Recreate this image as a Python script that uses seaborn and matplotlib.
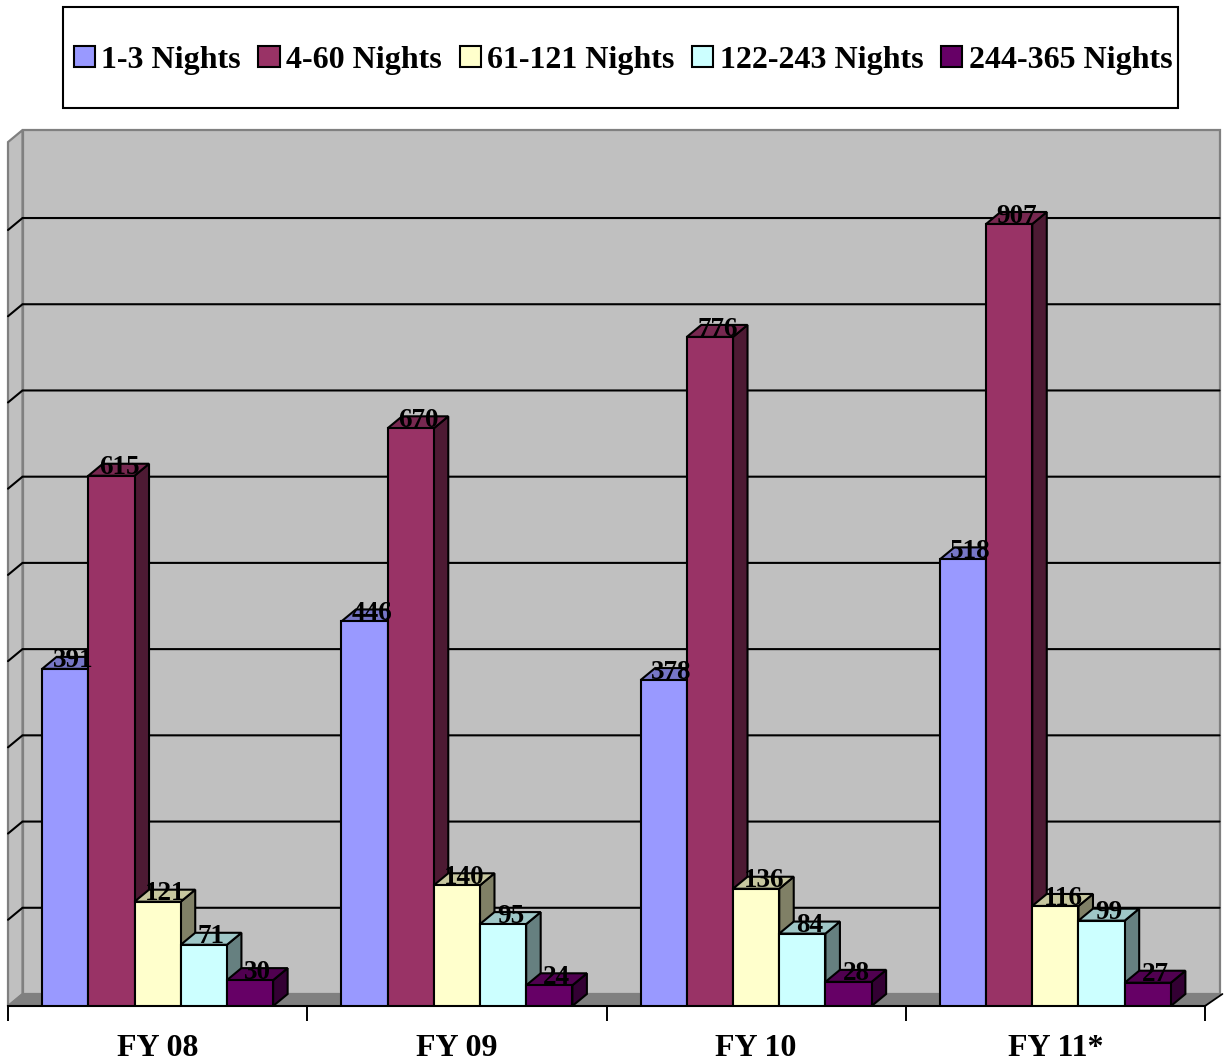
import pandas as pd
import matplotlib.pyplot as plt
from matplotlib.patches import Polygon, Rectangle
from matplotlib.colors import to_rgb
import seaborn as sns

# Chart values
years = ["FY 08", "FY 09", "FY 10", "FY 11*"]
stays = ["1-3 Nights", "4-60 Nights", "61-121 Nights", "122-243 Nights", "244-365 Nights"]
nights_1_3 = [391, 446, 378, 518]
nights_4_60 = [615, 670, 776, 907]
nights_61_121 = [121, 140, 136, 116]
nights_122_243 = [71, 95, 84, 99]
nights_244_365 = [30, 24, 28, 27]
colors = ["#9999FF", "#993366", "#FFFFCC", "#CCFFFF", "#660066"]
grid_values = [100, 200, 300, 400, 500, 600, 700, 800, 900]

rows = []
for stay, vals in zip(stays, [nights_1_3, nights_4_60, nights_61_121, nights_122_243, nights_244_365]):
    for year, v in zip(years, vals):
        rows.append({"year": year, "stay": stay, "count": v})
df = pd.DataFrame(rows)

sns.set_style("white")
plt.rcParams["font.family"] = ["Liberation Serif", "DejaVu Serif"]
plt.rcParams["font.weight"] = "bold"
plt.rcParams["text.color"] = "black"
plt.rcParams["xtick.labelcolor"] = "black"

W, H = 1225, 1063
fig = plt.figure(figsize=(W / 100, H / 100), dpi=100)
ax = fig.add_axes([8 / W, (H - 1006) / H, 1197 / W, 888 / H])

sns.barplot(data=df, x="year", y="count", hue="stay", hue_order=stays, order=years,
            palette=colors, width=0.772, gap=0, saturation=1, edgecolor="black",
            linewidth=1.5, ax=ax, zorder=3)

ax.set_xlim(-0.5, 3.5)
ax.set_ylim(0, 888 / 0.8622)
ax.set_xlabel("")
ax.set_ylabel("")

# depth of the fake 3D box, in data units
dx = 14.5 / (1197 / 4)
dy = 12 / 0.8622
wall_top = 1002

# back wall, side wall, floor
ax.add_patch(Polygon([(-0.5 + dx, dy), (3.5 + dx, dy), (3.5 + dx, wall_top + dy), (-0.5 + dx, wall_top + dy)],
                     fc="#C0C0C0", ec="#808080", lw=1.6, zorder=0, clip_on=False))
ax.add_patch(Polygon([(-0.5, 0), (-0.5 + dx, dy), (-0.5 + dx, wall_top + dy), (-0.5, wall_top)],
                     fc="#C0C0C0", ec="#808080", lw=1.6, zorder=0, clip_on=False))
ax.add_patch(Polygon([(-0.5, 0), (3.5, 0), (3.5 + dx, dy), (-0.5 + dx, dy)],
                     fc="#808080", ec="#808080", lw=1, zorder=0.5, clip_on=False))

# gridlines on the wall
for g in grid_values:
    ax.plot([-0.5, -0.5 + dx, 3.5 + dx], [g, g + dy, g + dy], color="black", lw=1.5, zorder=1,
            clip_on=False, solid_joinstyle="miter")
ax.plot([3.5, 3.5 + dx * 1.2], [0, dy * 1.0], color="black", lw=1.3, zorder=1, clip_on=False)

# side and top faces, left to right so the next bar covers the last one
bars = sorted([p for p in ax.patches if isinstance(p, Rectangle) and p.get_height() > 0 and p.get_zorder() == 3],
              key=lambda p: p.get_x())
for i, bar in enumerate(bars):
    x0 = bar.get_x()
    x1 = x0 + bar.get_width()
    top = bar.get_height()
    rgb = to_rgb(bar.get_facecolor())
    side_c = tuple(c * 0.5 for c in rgb)
    top_c = tuple(c * 0.78 for c in rgb)
    z = 3 + i * 0.01
    ax.add_patch(Polygon([(x1, 0), (x1 + dx, dy), (x1 + dx, top + dy), (x1, top)],
                         fc=side_c, ec="black", lw=1.5, zorder=z))
    ax.add_patch(Polygon([(x0, top), (x0 + dx, top + dy), (x1 + dx, top + dy), (x1, top)],
                         fc=top_c, ec="black", lw=1.5, zorder=z + 0.001))
    bar.set_zorder(z + 0.002)
    ax.annotate(f"{int(top)}", (x0 + bar.get_width() / 2, top), xytext=(5.5, 1.0),
                textcoords="offset points", ha="center", va="baseline", fontsize=19.5,
                fontweight="bold", color="black", zorder=10)

# x axis: ticks between the years, labels centred under them
sns.despine(ax=ax, left=True, top=True, right=True)
ax.spines["bottom"].set_color("black")
ax.spines["bottom"].set_linewidth(1.5)
ax.spines["bottom"].set_zorder(2)
ax.patch.set_alpha(0)
ax.set_yticks([])
ax.set_xticks([-0.5, 0.5, 1.5, 2.5, 3.5])
ax.set_xticklabels([])
ax.set_xticks([0, 1, 2, 3], minor=True)
ax.set_xticklabels(years, minor=True, fontsize=23, fontweight="bold", color="black")
ax.tick_params(axis="x", which="major", bottom=True, length=10.5, width=1.4, color="black")
ax.tick_params(axis="x", which="minor", bottom=False, length=0, pad=20)

# legend in its own box above the chart
handles, labels = ax.get_legend_handles_labels()
leg = ax.legend(handles, labels, loc="upper left", bbox_to_anchor=(73.5 / W, (H - 46) / H),
                bbox_transform=fig.transFigure, ncol=5, frameon=False,
                borderpad=0, borderaxespad=0, handlelength=0.66, handleheight=0.65,
                handletextpad=0.2, columnspacing=0.56, labelcolor="black",
                prop={"family": "Liberation Serif", "weight": "bold", "size": 23})
for h in leg.get_patches():
    h.set_edgecolor("black")
    h.set_linewidth(1.5)
fig.add_artist(Rectangle((62.5 / W, (H - 108) / H), 1115 / W, 101 / H, transform=fig.transFigure,
                         fc="white", ec="black", lw=1.5, zorder=-1))

fig.savefig("out.png", dpi=100)
